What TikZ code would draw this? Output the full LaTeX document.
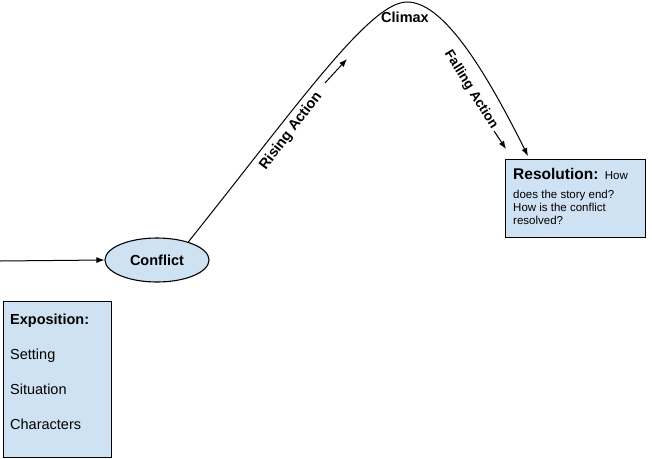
\documentclass[tikz,border=0pt]{standalone}
\usepackage{fontspec}
\setmainfont{Liberation Sans}
\usetikzlibrary{shapes.geometric,arrows.meta,calc}
\definecolor{boxblue}{HTML}{CFE2F3}
\tikzset{
  conn/.style={line width=1pt,-{Latex[length=8pt,width=6pt]}},
  bluebox/.style={draw,line width=1.1pt,fill=boxblue,rectangle,inner sep=0pt,anchor=north west},
  txt/.style={inner sep=0pt,anchor=base west,font=\fontsize{14.5}{16}\selectfont},
  btxt/.style={inner sep=0pt,font=\bfseries\fontsize{14.5}{16}\selectfont},
  stxt/.style={inner sep=0pt,anchor=base west,font=\fontsize{11.5}{13}\selectfont},
}
\begin{document}
\begin{tikzpicture}[x=1pt,y=-1pt]
\useasboundingbox (0,0) rectangle (652,458);
% conflict
\node[ellipse,draw,line width=1.1pt,fill=boxblue,minimum width=104pt,minimum height=44pt,inner sep=0pt,btxt] (conflict) at (157,260) {Conflict};
% exposition
\node[bluebox,minimum width=108pt,minimum height=156pt] (expo) at (3,301) {};
\node[txt,font=\bfseries\fontsize{14.5}{16}\selectfont] (e1) at (10,324) {Exposition:};
\node[txt] (e2) at (10,359) {Setting};
\node[txt] (e3) at (10,394) {Situation};
\node[txt] (e4) at (10,429) {Characters};
% resolution
\node[bluebox,minimum width=140pt,minimum height=78pt] (res) at (505,159) {};
\node[inner sep=0pt,anchor=base west] (r1) at (513,179) {\bfseries\fontsize{15.5}{17}\selectfont Resolution:\fontsize{11.5}{13}\mdseries\selectfont\ \ How};
\node[stxt] (r2) at (513,198) {does the story end?};
\node[stxt] (r3) at (513,211) {How is the conflict};
\node[stxt] (r4) at (513,224) {resolved?};
% incoming arrow
\coordinate (start) at (0,261);
\draw[conn] (start) -- (conflict.west);
% arc
\coordinate (peak) at (407,2);
\coordinate (resend) at ($(res.north west)+(23,-3)$);
\draw[conn] (conflict.30) .. controls (300,102) and (370,2) .. (peak)
  .. controls (442,2) and (482,64) .. (resend);
% labels
\node[btxt] (climax) at (405,17) {Climax};
\node[btxt,rotate=53] (rising) at (291,131) {Rising Action};
\node[btxt,rotate=-58,font=\bfseries\fontsize{13.5}{15}\selectfont] (falling) at (471,90) {Falling Action};
\coordinate (ra1) at (325,83);
\coordinate (ra2) at (347,59);
\draw[conn] (ra1) -- (ra2);
\coordinate (fa1) at (494,131);
\coordinate (fa2) at (506,149);
\draw[conn] (fa1) -- (fa2);
\end{tikzpicture}
\end{document}
